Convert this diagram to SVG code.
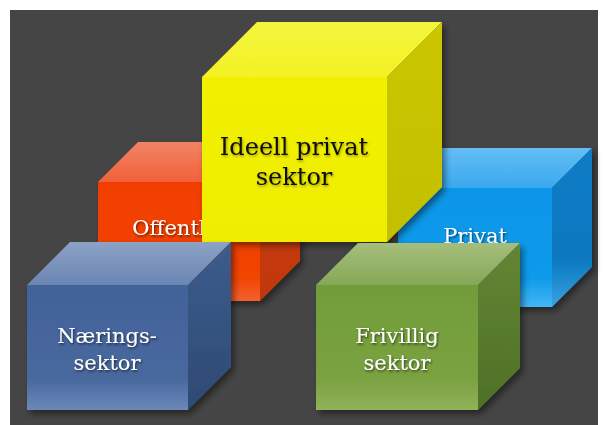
<svg xmlns="http://www.w3.org/2000/svg" width="603" height="425" viewBox="0 0 603 425">
<defs>
<filter id="sh" x="-20%" y="-20%" width="140%" height="140%"><feDropShadow dx="3" dy="4" stdDeviation="3" flood-color="#000" flood-opacity="0.45"/></filter>
<filter id="tsh" x="-10%" y="-20%" width="120%" height="150%"><feDropShadow dx="1" dy="1.5" stdDeviation="1" flood-color="#000" flood-opacity="0.6"/></filter>
<filter id="tshy" x="-10%" y="-20%" width="120%" height="150%"><feDropShadow dx="1" dy="1.5" stdDeviation="1" flood-color="#000" flood-opacity="0.35"/></filter>
<linearGradient id="oF" x1="0" y1="0" x2="0" y2="1"><stop offset="0" stop-color="#f23e00"/><stop offset="0.8" stop-color="#f24400"/><stop offset="1" stop-color="#f46030"/></linearGradient>
<linearGradient id="oT" x1="0" y1="0" x2="0" y2="1"><stop offset="0" stop-color="#f08464"/><stop offset="1" stop-color="#f2603a"/></linearGradient>
<linearGradient id="oR" x1="0" y1="0" x2="0" y2="1"><stop offset="0" stop-color="#d0400e"/><stop offset="1" stop-color="#c03608"/></linearGradient>
<linearGradient id="bF" x1="0" y1="0" x2="0" y2="1"><stop offset="0" stop-color="#0896e8"/><stop offset="0.75" stop-color="#0c9aea"/><stop offset="1" stop-color="#44b6f4"/></linearGradient>
<linearGradient id="bT" x1="0" y1="0" x2="0" y2="1"><stop offset="0" stop-color="#64bef4"/><stop offset="1" stop-color="#3aa8ee"/></linearGradient>
<linearGradient id="bR" x1="0" y1="0" x2="0" y2="1"><stop offset="0" stop-color="#0a7cc6"/><stop offset="0.7" stop-color="#0a78c0"/><stop offset="1" stop-color="#3aa2e2"/></linearGradient>
<linearGradient id="yF" x1="0" y1="0" x2="0" y2="1"><stop offset="0" stop-color="#f2f000"/><stop offset="1" stop-color="#f0ee00"/></linearGradient>
<linearGradient id="yT" x1="0" y1="0" x2="0" y2="1"><stop offset="0" stop-color="#f4f440"/><stop offset="1" stop-color="#f2f224"/></linearGradient>
<linearGradient id="yR" x1="0" y1="0" x2="0" y2="1"><stop offset="0" stop-color="#cac600"/><stop offset="1" stop-color="#c4c000"/></linearGradient>
<linearGradient id="nF" x1="0" y1="0" x2="0" y2="1"><stop offset="0" stop-color="#42629a"/><stop offset="0.75" stop-color="#48689e"/><stop offset="1" stop-color="#6c88b8"/></linearGradient>
<linearGradient id="nT" x1="0" y1="0" x2="0" y2="1"><stop offset="0" stop-color="#8ca2c6"/><stop offset="1" stop-color="#6a86b4"/></linearGradient>
<linearGradient id="nR" x1="0" y1="0" x2="0" y2="1"><stop offset="0" stop-color="#3c5c8c"/><stop offset="1" stop-color="#2e4a74"/></linearGradient>
<linearGradient id="gF" x1="0" y1="0" x2="0" y2="1"><stop offset="0" stop-color="#729c3a"/><stop offset="0.75" stop-color="#7aa240"/><stop offset="1" stop-color="#90b25a"/></linearGradient>
<linearGradient id="gT" x1="0" y1="0" x2="0" y2="1"><stop offset="0" stop-color="#a6be7c"/><stop offset="1" stop-color="#86a856"/></linearGradient>
<linearGradient id="gR" x1="0" y1="0" x2="0" y2="1"><stop offset="0" stop-color="#648632"/><stop offset="1" stop-color="#4e7028"/></linearGradient>
</defs>
<style>
.lbl{font-family:"DejaVu Serif","Liberation Serif",serif;font-size:21px;fill:#ffffff;text-anchor:middle;filter:url(#tsh)}
.lbly{font-family:"DejaVu Serif","Liberation Serif",serif;font-size:24px;fill:#111111;text-anchor:middle;filter:url(#tshy)}
</style>
<rect x="10" y="10" width="588" height="415" fill="#454545"/>
<g id="connectors"></g>
<g id="offentlig">
<g filter="url(#sh)">
<rect x="98" y="182" width="162" height="119" fill="url(#oF)"/>
<polygon points="98,182 138,142 300,142 260,182" fill="url(#oT)"/>
<polygon points="260,182 300,142 300,261 260,301" fill="url(#oR)"/>
</g>
<text class="lbl" x="179" y="235">Offentlig</text>
</g>
<g id="privat">
<g filter="url(#sh)">
<rect x="398" y="188" width="154" height="119" fill="url(#bF)"/>
<polygon points="398,188 438,148 592,148 552,188" fill="url(#bT)"/>
<polygon points="552,188 592,148 592,267 552,307" fill="url(#bR)"/>
</g>
<text class="lbl" x="475" y="243">Privat</text>
</g>
<g id="ideell">
<g filter="url(#sh)">
<rect x="202" y="77" width="185" height="165" fill="url(#yF)"/>
<polygon points="202,77 257,22 442,22 387,77" fill="url(#yT)"/>
<polygon points="387,77 442,22 442,187 387,242" fill="url(#yR)"/>
</g>
<text class="lbly" x="294" y="155">Ideell privat</text>
<text class="lbly" x="294" y="185">sektor</text>
</g>
<g id="naering">
<g filter="url(#sh)">
<rect x="27" y="285" width="161" height="125" fill="url(#nF)"/>
<polygon points="27,285 70,242 231,242 188,285" fill="url(#nT)"/>
<polygon points="188,285 231,242 231,367 188,410" fill="url(#nR)"/>
</g>
<text class="lbl" x="107" y="343">Nærings-</text>
<text class="lbl" x="107" y="370">sektor</text>
</g>
<g id="frivillig">
<g filter="url(#sh)">
<rect x="316" y="285" width="162" height="125" fill="url(#gF)"/>
<polygon points="316,285 358,243 520,243 478,285" fill="url(#gT)"/>
<polygon points="478,285 520,243 520,368 478,410" fill="url(#gR)"/>
</g>
<text class="lbl" x="397" y="343">Frivillig</text>
<text class="lbl" x="397" y="370">sektor</text>
</g>
</svg>
